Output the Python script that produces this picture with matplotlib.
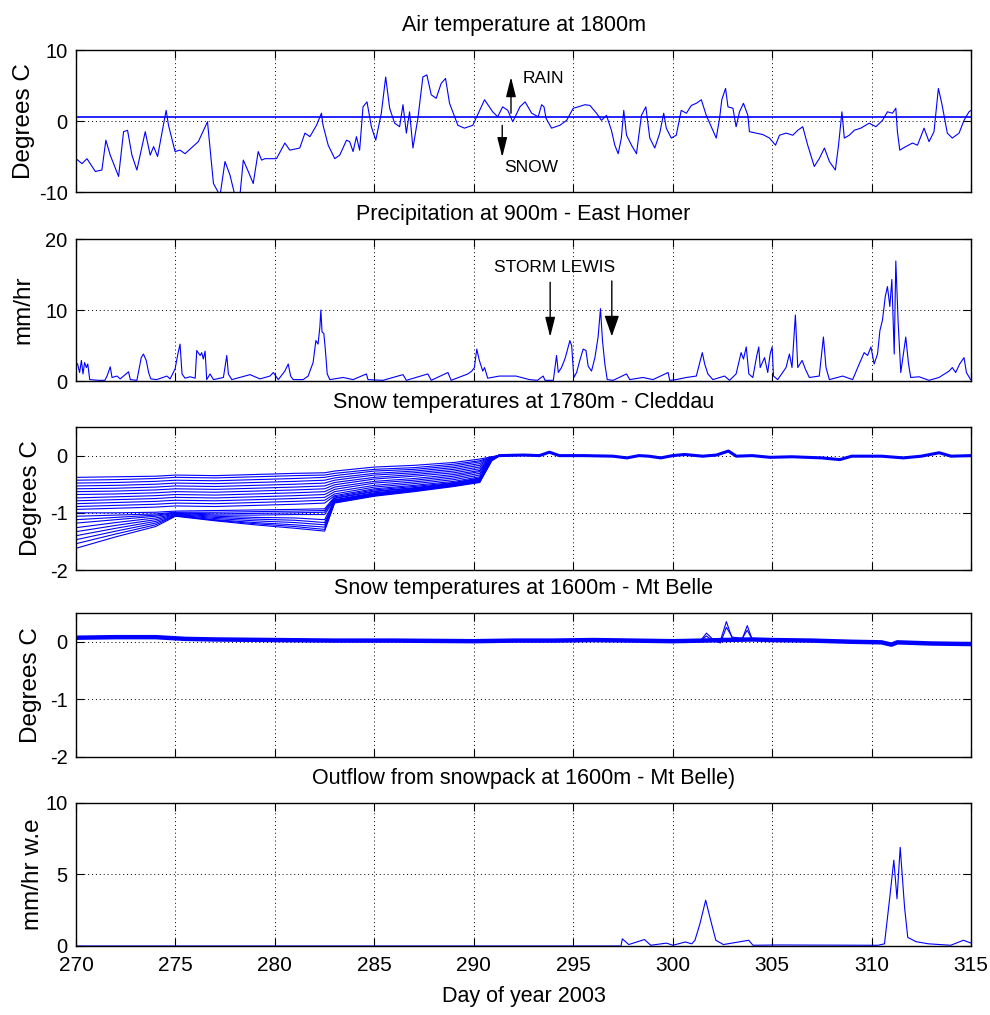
import matplotlib
matplotlib.use('Agg')
import matplotlib.pyplot as plt

plt.rcParams['font.family'] = ['Liberation Sans', 'DejaVu Sans']
plt.rcParams['axes.unicode_minus'] = False

BLUE = '#0000ff'

# ---- air temperature at 1800m (day, degC) ----
air_day = [270.00, 270.30, 270.55, 270.97, 271.30, 271.50, 271.72, 272.14, 272.39, 272.59,
           272.81, 273.06, 273.48, 273.73, 273.90, 274.10, 274.53, 274.65, 274.98, 275.23,
           275.48, 276.15, 276.61, 276.91, 277.24, 277.49, 277.74, 277.99, 278.24, 278.41,
           278.66, 278.91, 279.16, 279.33, 279.50, 280.08, 280.50, 280.75, 281.25, 281.51,
           281.76, 282.09, 282.34, 282.42, 282.68, 283.01, 283.26, 283.60, 283.76, 283.93,
           284.10, 284.26, 284.43, 284.63, 284.85, 285.07, 285.35, 285.57, 285.77, 286.02,
           286.27, 286.44, 286.61, 286.77, 286.94, 287.19, 287.44, 287.64, 287.86, 288.11,
           288.36, 288.58, 288.78, 289.20, 289.53, 289.95, 290.54, 290.95, 291.20, 291.45,
           291.71, 291.96, 292.32, 292.58, 292.91, 293.24, 293.41, 293.53, 293.63, 293.91,
           294.33, 294.67, 295.00, 295.25, 295.59, 295.84, 296.17, 296.42, 296.67, 296.92,
           297.09, 297.26, 297.42, 297.54, 297.68, 297.93, 298.18, 298.43, 298.65, 298.85,
           299.10, 299.35, 299.55, 299.68, 299.93, 300.18, 300.43, 300.69, 300.94, 301.19,
           301.44, 301.69, 301.94, 302.19, 302.36, 302.47, 302.66, 302.78, 303.03, 303.19,
           303.36, 303.56, 303.78, 303.86, 304.20, 304.53, 304.87, 305.17, 305.37, 305.70,
           306.04, 306.29, 306.54, 306.79, 307.12, 307.37, 307.63, 307.88, 308.18, 308.34,
           308.51, 308.63, 308.88, 309.13, 309.46, 309.88, 310.22, 310.55, 310.80, 311.05,
           311.22, 311.30, 311.42, 311.72, 312.06, 312.31, 312.64, 312.89, 313.14, 313.36,
           313.53, 313.81, 314.06, 314.40, 314.65, 314.90, 315.00]
air_temp = [-5.3, -6.0, -5.3, -7.1, -6.9, -2.7, -4.8, -7.8, -1.5, -1.3,
            -4.8, -6.9, -1.5, -4.8, -3.6, -5.0, 1.5, -0.6, -4.3, -4.1,
            -4.6, -2.9, -0.1, -8.8, -10.5, -5.7, -7.6, -10.5, -10.5, -5.5,
            -7.1, -8.8, -4.3, -5.5, -5.3, -5.3, -3.1, -4.1, -3.8, -1.7,
            -2.2, -0.6, 1.1, -0.6, -3.4, -5.3, -4.8, -2.7, -2.9, -4.3,
            -2.2, -4.1, 2.0, 2.7, -0.8, -2.7, 1.1, 6.2, 1.8, -0.3,
            -0.8, 2.3, -1.7, 1.3, -3.8, 0.4, 6.2, 6.5, 3.7, 3.2,
            5.3, 6.0, 2.5, -0.6, -1.0, -0.6, 3.0, 1.3, 0.6, 2.0,
            1.5, -0.1, 2.0, 2.7, 1.1, 0.6, 2.3, 2.0, 0.4, -1.0,
            -0.6, 0.1, 1.8, 2.0, 2.3, 2.2, 1.1, 0.1, 0.8, -1.3,
            -3.4, -4.6, -2.4, 1.5, -2.0, -3.4, -4.6, 0.8, 2.0, -2.4,
            -3.8, -1.7, 1.1, -1.0, -2.4, -2.0, 1.5, 1.1, 2.2, 2.5,
            3.0, 0.8, -0.8, -2.4, 0.4, 3.0, 4.6, 2.0, 1.8, -0.8,
            1.3, 2.5, 0.8, -1.5, -1.7, -1.9, -2.4, -3.4, -2.0, -1.7,
            -2.0, -1.3, -0.8, -3.4, -6.4, -5.3, -3.8, -5.7, -6.9, -3.4,
            1.3, -2.4, -2.0, -1.3, -1.0, -0.3, -0.8, 0.1, 1.3, 1.1,
            1.8, -1.5, -4.1, -3.6, -3.1, -3.4, -1.0, -2.9, -1.5, 4.6,
            2.5, -1.7, -2.4, -1.7, 0.1, 1.3, 1.5]
rain_snow_threshold = 0.5

# ---- precipitation at 900m (day, mm/hr) ----
precip_day = [270.00, 270.08, 270.18, 270.27, 270.35, 270.43, 270.52, 270.59, 270.69, 271.14,
              271.45, 271.56, 271.72, 271.81, 272.06, 272.22, 272.47, 272.64, 272.73, 273.06,
              273.28, 273.39, 273.53, 273.65, 273.76, 274.06, 274.57, 274.73, 274.98, 275.12,
              275.23, 275.33, 275.48, 275.74, 275.99, 276.07, 276.24, 276.32, 276.40, 276.49,
              276.57, 276.74, 276.91, 277.41, 277.58, 277.66, 277.83, 278.75, 279.25, 279.75,
              279.92, 280.17, 280.50, 280.67, 280.79, 280.92, 281.42, 281.67, 281.92, 282.06,
              282.17, 282.26, 282.31, 282.37, 282.46, 282.54, 282.63, 282.76, 283.43, 283.93,
              284.60, 284.68, 285.43, 286.44, 286.61, 287.69, 287.86, 288.70, 288.86, 289.70,
              289.90, 290.03, 290.15, 290.28, 290.45, 290.54, 290.70, 291.29, 292.12, 292.80,
              293.20, 293.49, 293.58, 294.00, 294.16, 294.25, 294.41, 294.58, 294.70, 294.83,
              294.92, 295.03, 295.17, 295.33, 295.50, 295.64, 295.75, 295.92, 296.09, 296.25,
              296.37, 296.47, 296.59, 296.71, 297.01, 297.68, 297.84, 298.51, 299.01, 299.77,
              299.85, 300.18, 300.69, 301.19, 301.49, 301.61, 301.77, 302.02, 302.61, 302.86,
              303.19, 303.44, 303.56, 303.70, 303.83, 304.03, 304.23, 304.33, 304.40, 304.62,
              304.78, 304.90, 305.00, 305.07, 305.28, 305.70, 305.87, 306.00, 306.17, 306.29,
              306.51, 306.67, 306.87, 307.37, 307.58, 307.71, 307.88, 308.55, 309.05, 309.38,
              309.63, 309.80, 309.97, 310.13, 310.30, 310.42, 310.55, 310.69, 310.80, 310.92,
              311.02, 311.14, 311.22, 311.34, 311.47, 311.59, 311.72, 311.86, 311.97, 312.39,
              312.89, 313.39, 313.90, 314.06, 314.23, 314.43, 314.65, 314.77, 314.98]
precip = [2.6, 2.4, 1.2, 2.9, 1.0, 2.6, 1.9, 2.4, 0.2, 0.1,
          0.1, 0.7, 2.0, 0.5, 0.7, 0.3, 0.9, 1.3, 0.2, 0.1,
          3.3, 3.8, 2.9, 1.2, 0.3, 0.2, 0.7, 0.3, 1.7, 3.8,
          5.2, 1.0, 0.4, 0.6, 0.4, 4.3, 3.6, 4.0, 3.1, 4.2,
          0.2, 1.0, 0.2, 0.5, 3.6, 1.0, 0.2, 0.9, 0.3, 0.7,
          1.2, 0.2, 1.4, 2.4, 0.7, 0.2, 0.2, 0.7, 2.6, 5.7,
          5.2, 7.6, 10.0, 6.9, 6.7, 4.3, 1.0, 0.2, 0.5, 0.2,
          1.0, 0.2, 0.1, 0.9, 0.1, 1.0, 0.1, 1.2, 0.1, 1.0,
          1.4, 1.9, 4.5, 2.9, 1.4, 1.9, 0.4, 0.7, 0.7, 0.2,
          0.1, 0.7, 0.1, 0.1, 3.6, 1.2, 1.9, 3.1, 4.3, 5.7,
          5.0, 0.5, 1.2, 2.9, 4.5, 4.3, 2.1, 1.4, 3.3, 6.2,
          10.2, 5.7, 2.4, 0.2, 0.1, 1.0, 0.2, 0.5, 0.2, 1.2,
          0.1, 0.2, 0.5, 0.7, 4.0, 2.4, 1.0, 0.2, 0.7, 0.1,
          1.0, 4.0, 3.1, 4.8, 1.0, 0.5, 3.6, 4.8, 1.9, 3.3,
          1.2, 3.8, 4.8, 0.7, 0.2, 1.9, 3.8, 1.9, 9.3, 1.9,
          2.9, 1.7, 0.5, 0.7, 6.2, 1.9, 0.2, 0.7, 0.2, 2.4,
          4.0, 3.6, 4.8, 2.4, 3.8, 7.1, 8.6, 11.9, 13.3, 10.5,
          14.3, 3.8, 16.9, 8.1, 1.2, 3.6, 6.2, 2.4, 0.5, 0.6,
          0.1, 0.5, 1.4, 1.9, 1.2, 2.4, 3.3, 1.2, 0.2]

# ---- snow temperatures at 1780m, Cleddau: one row per sensor ----
cleddau_day = [270, 272, 274, 275, 277, 279, 281, 282.5, 283.0, 285, 287, 289, 290.3, 290.9]
cleddau_temps = [
    [-0.38, -0.37, -0.36, -0.34, -0.35, -0.33, -0.31, -0.30, -0.27, -0.20, -0.17, -0.12, -0.06, -0.02],
    [-0.43, -0.42, -0.40, -0.38, -0.39, -0.37, -0.35, -0.34, -0.31, -0.24, -0.21, -0.15, -0.09, -0.02],
    [-0.48, -0.47, -0.45, -0.43, -0.44, -0.42, -0.40, -0.38, -0.35, -0.27, -0.24, -0.18, -0.11, -0.03],
    [-0.53, -0.52, -0.50, -0.48, -0.49, -0.47, -0.45, -0.43, -0.39, -0.31, -0.27, -0.21, -0.14, -0.03],
    [-0.58, -0.57, -0.55, -0.53, -0.54, -0.52, -0.50, -0.48, -0.43, -0.34, -0.30, -0.24, -0.17, -0.03],
    [-0.63, -0.62, -0.60, -0.58, -0.59, -0.57, -0.55, -0.53, -0.47, -0.38, -0.33, -0.27, -0.20, -0.04],
    [-0.68, -0.67, -0.65, -0.63, -0.64, -0.62, -0.60, -0.58, -0.51, -0.41, -0.36, -0.30, -0.23, -0.04],
    [-0.74, -0.72, -0.70, -0.68, -0.69, -0.67, -0.65, -0.63, -0.55, -0.45, -0.40, -0.33, -0.26, -0.04],
    [-0.79, -0.77, -0.75, -0.73, -0.74, -0.72, -0.70, -0.68, -0.59, -0.48, -0.43, -0.36, -0.28, -0.05],
    [-0.84, -0.82, -0.80, -0.78, -0.79, -0.77, -0.75, -0.73, -0.63, -0.52, -0.46, -0.39, -0.31, -0.05],
    [-0.89, -0.87, -0.85, -0.83, -0.84, -0.82, -0.80, -0.78, -0.67, -0.55, -0.49, -0.42, -0.34, -0.05],
    [-0.94, -0.92, -0.90, -0.88, -0.89, -0.87, -0.85, -0.83, -0.70, -0.58, -0.52, -0.45, -0.37, -0.06],
    [-1.00, -1.00, -0.99, -0.97, -0.96, -0.95, -0.94, -0.93, -0.72, -0.60, -0.54, -0.47, -0.39, -0.06],
    [-1.06, -1.04, -1.02, -0.99, -0.99, -0.98, -0.97, -0.96, -0.74, -0.62, -0.56, -0.48, -0.40, -0.06],
    [-1.12, -1.08, -1.04, -1.00, -1.02, -1.01, -1.00, -0.99, -0.75, -0.63, -0.57, -0.49, -0.41, -0.07],
    [-1.18, -1.12, -1.06, -1.01, -1.04, -1.04, -1.03, -1.03, -0.77, -0.65, -0.58, -0.50, -0.42, -0.07],
    [-1.26, -1.17, -1.09, -1.02, -1.06, -1.08, -1.09, -1.12, -0.78, -0.66, -0.59, -0.51, -0.43, -0.07],
    [-1.33, -1.22, -1.12, -1.03, -1.08, -1.11, -1.13, -1.17, -0.79, -0.67, -0.60, -0.52, -0.44, -0.08],
    [-1.40, -1.27, -1.15, -1.04, -1.10, -1.14, -1.17, -1.21, -0.80, -0.68, -0.61, -0.52, -0.45, -0.08],
    [-1.47, -1.32, -1.18, -1.05, -1.12, -1.17, -1.21, -1.25, -0.81, -0.69, -0.61, -0.53, -0.45, -0.08],
    [-1.54, -1.37, -1.21, -1.05, -1.13, -1.19, -1.24, -1.29, -0.82, -0.70, -0.62, -0.53, -0.46, -0.09],
    [-1.62, -1.42, -1.24, -1.06, -1.14, -1.21, -1.27, -1.32, -0.83, -0.71, -0.63, -0.54, -0.47, -0.09],
]
# after the pack goes isothermal all sensors sit on top of each other
isothermal_day = [291.3, 292.5, 293.3, 293.8, 294.3, 295.5, 297.0, 297.7, 298.3, 298.8,
                  299.4, 300.0, 300.6, 301.5, 302.2, 302.8, 303.2, 304.0, 304.9, 306.0,
                  307.5, 308.4, 309.0, 310.5, 311.6, 312.5, 313.4, 314.0, 315.0]
isothermal_temp = [0.0, 0.01, 0.0, 0.06, 0.0, 0.0, -0.01, -0.04, 0.0, -0.01,
                   -0.04, 0.0, 0.02, -0.01, 0.01, 0.08, -0.01, 0.0, -0.03, -0.02,
                   -0.04, -0.07, -0.01, -0.01, -0.04, -0.01, 0.05, -0.01, 0.0]

# ---- snow temperatures at 1600m, Mt Belle ----
belle_day = [270, 272, 274, 275.5, 277, 280, 283, 286, 290, 292, 294, 296, 298, 300,
             301.5, 302.5, 304, 305, 307, 309, 310.5, 311, 311.3, 313, 315]
belle_temp = [0.07, 0.08, 0.08, 0.05, 0.04, 0.03, 0.02, 0.02, 0.01, 0.02, 0.02, 0.03, 0.02, 0.01,
              0.02, 0.03, 0.04, 0.03, 0.02, 0.0, -0.01, -0.05, -0.01, -0.03, -0.04]
belle_spike_day = [300, 301.4, 301.7, 302.0, 302.4, 302.7, 303.0, 303.5, 303.75, 304.0, 305]
belle_spike_a = [0.01, 0.02, 0.15, 0.05, 0.02, 0.35, 0.05, 0.05, 0.28, 0.04, 0.03]
belle_spike_b = [0.01, 0.02, 0.10, 0.02, -0.02, 0.25, 0.08, 0.06, 0.20, 0.04, 0.03]

# ---- outflow from snowpack, Mt Belle (mm/hr w.e.) ----
outflow_day = [270.0, 297.40, 297.47, 297.79, 298.58, 298.90, 299.69, 300.01, 300.64, 300.96,
               301.12, 301.37, 301.66, 301.91, 302.17, 302.55, 303.82, 304.04, 305.25, 310.33,
               310.65, 310.90, 311.12, 311.28, 311.44, 311.66, 311.82, 312.24, 312.87, 313.98,
               314.62, 315.0]
outflow = [0.0, 0.0, 0.5, 0.1, 0.45, 0.05, 0.2, 0.05, 0.28, 0.15,
           0.4, 1.55, 3.2, 1.8, 0.4, 0.1, 0.4, 0.05, 0.07, 0.05,
           0.15, 3.2, 6.0, 3.3, 6.9, 2.7, 0.6, 0.3, 0.15, 0.05,
           0.4, 0.2]

fig = plt.figure(figsize=(9.9, 10.15), dpi=100)

left, width = 0.0768, 0.904
rects = [[left, 0.8108, width, 0.1399],
         [left, 0.6246, width, 0.1399],
         [left, 0.4384, width, 0.1409],
         [left, 0.2542, width, 0.1419],
         [left, 0.0680, width, 0.1409]]
axes = [fig.add_axes(r) for r in rects]


def matlab_style(ax, ylim, yticks, title, ylabel, label_x):
    ax.set_xlim(270, 315)
    ax.set_ylim(*ylim)
    ax.set_xticks(range(270, 316, 5))
    ax.set_yticks(yticks)
    ax.tick_params(direction='in', top=True, right=True, length=6, width=0.8,
                   labelsize=14.5, pad=6)
    ax.tick_params(axis='x', labelbottom=False)
    ax.grid(True, color='k', linestyle=(0, (1, 3)), linewidth=0.7)
    for s in ax.spines.values():
        s.set_linewidth(1.0)
    ax.set_title(title, fontsize=15.5, pad=14)
    ax.set_ylabel(ylabel, fontsize=17.5)
    ax.yaxis.set_label_coords(label_x, 0.5)


arrow = dict(arrowstyle='-|>,head_length=0.8,head_width=0.2', color='k', lw=1,
             shrinkA=0, shrinkB=0, mutation_scale=15)

# panel 1
ax = axes[0]
ax.plot(air_day, air_temp, color=BLUE, lw=0.8)
ax.axhline(rain_snow_threshold, color=BLUE, lw=1.2)
ax.annotate('', xy=(291.87, 6.2), xytext=(291.87, 1.1), arrowprops=arrow)
ax.annotate('', xy=(291.43, -5.1), xytext=(291.43, -0.6), arrowprops=arrow)
ax.text(292.45, 6.0, 'RAIN', fontsize=12.5, va='center', ha='left')
ax.text(291.55, -6.6, 'SNOW', fontsize=12.5, va='center', ha='left')
matlab_style(ax, (-10, 10), [-10, 0, 10], 'Air temperature at 1800m', 'Degrees C', -0.046)

# panel 2
ax = axes[1]
ax.plot(precip_day, precip, color=BLUE, lw=0.8)
ax.annotate('', xy=(293.84, 6.2), xytext=(293.84, 13.9), arrowprops=arrow)
big_arrow = dict(arrow, arrowstyle='-|>,head_length=0.85,head_width=0.3')
ax.annotate('', xy=(296.94, 6.3), xytext=(296.94, 14.1), arrowprops=big_arrow)
ax.text(291.0, 16.0, 'STORM LEWIS', fontsize=12.5, va='center', ha='left')
matlab_style(ax, (0, 20), [0, 10, 20], 'Precipitation at 900m - East Homer', 'mm/hr', -0.046)

# panel 3
ax = axes[2]
for row in cleddau_temps:
    ax.plot(cleddau_day + isothermal_day, row + isothermal_temp, color=BLUE, lw=0.8)
ax.plot(isothermal_day, isothermal_temp, color=BLUE, lw=2.2)
matlab_style(ax, (-2, 0.5), [-2, -1, 0], 'Snow temperatures at 1780m - Cleddau', 'Degrees C', -0.038)

# panel 4
ax = axes[3]
ax.plot(belle_spike_day, belle_spike_a, color=BLUE, lw=0.8)
ax.plot(belle_spike_day, belle_spike_b, color=BLUE, lw=0.8)
ax.plot(belle_day, belle_temp, color=BLUE, lw=3.2)
matlab_style(ax, (-2, 0.5), [-2, -1, 0], 'Snow temperatures at 1600m - Mt Belle', 'Degrees C', -0.038)

# panel 5
ax = axes[4]
ax.plot(outflow_day, outflow, color=BLUE, lw=0.8)
matlab_style(ax, (0, 10), [0, 5, 10], 'Outflow from snowpack at 1600m - Mt Belle)', 'mm/hr w.e', -0.036)
ax.tick_params(axis='x', labelbottom=True, labelsize=15, pad=7)
ax.set_xlabel('Day of year 2003', fontsize=15.5, labelpad=8)

fig.savefig('out.png', dpi=100)
